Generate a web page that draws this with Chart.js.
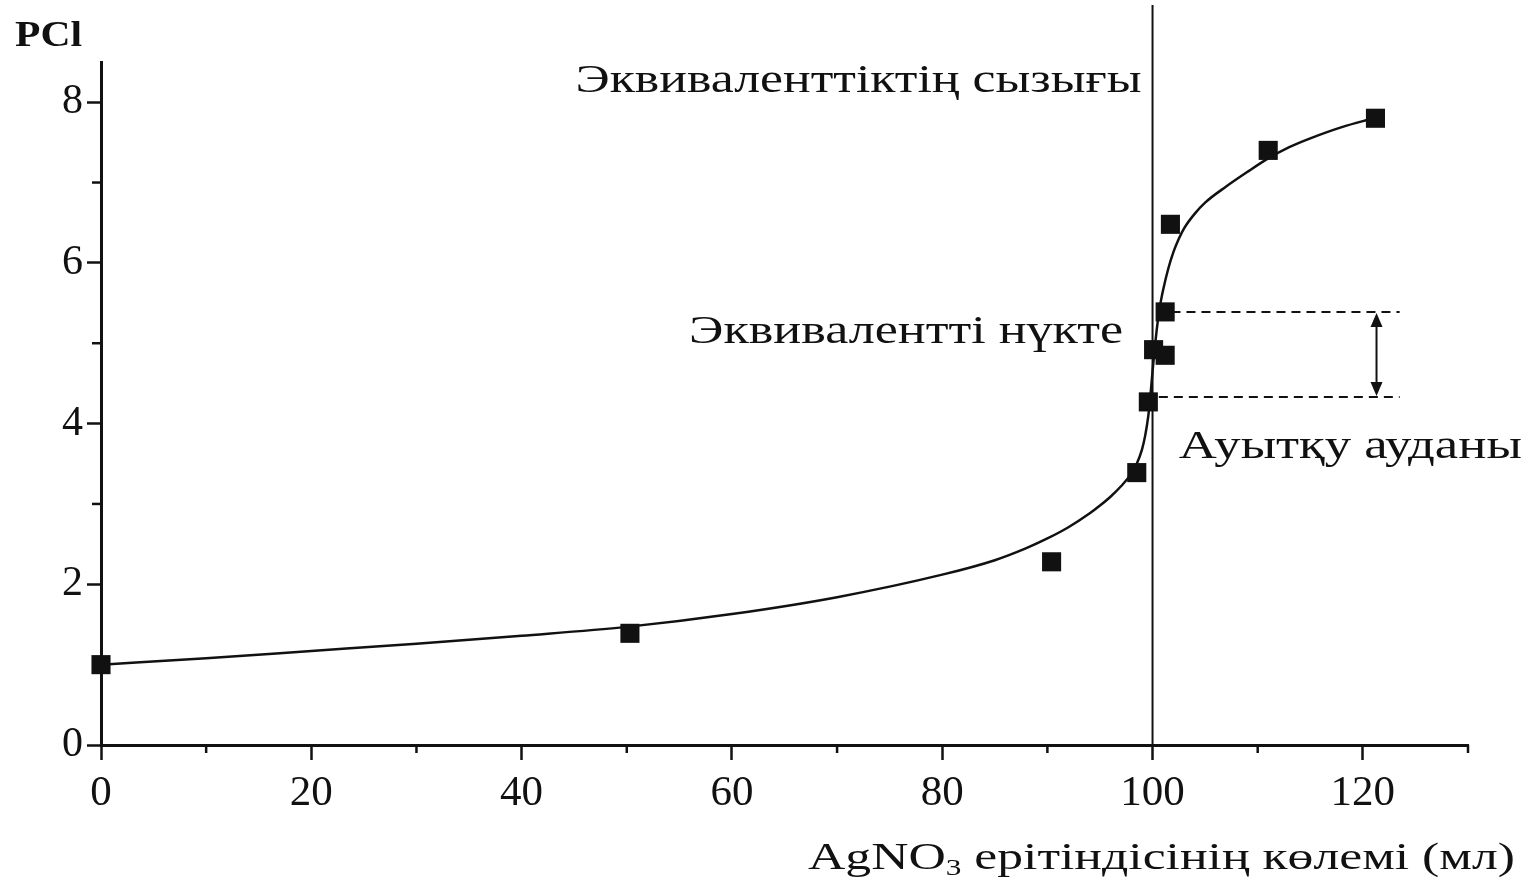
<!DOCTYPE html>
<html><head><meta charset="utf-8">
<script src="https://cdn.jsdelivr.net/npm/chart.js@4.4.0/dist/chart.umd.min.js"></script>
<style>html,body{margin:0;padding:0;background:#fff}#wrap{width:1523px;height:878px;position:relative}</style>
</head><body><div id="wrap"><canvas id="c"></canvas></div>
<script>
// measured points (volume AgNO3, pCl)
const pointX = [0, 50.3, 90.4, 98.5, 99.6, 100.1, 101.2, 101.2, 101.7, 111.0, 121.2];
const pointY = [1.0, 1.39, 2.28, 3.39, 4.27, 4.92, 4.85, 5.39, 6.48, 7.40, 7.80];
// titration curve
const curveX = [0, 10, 20, 30, 40, 50, 60, 70, 80, 85, 88, 90, 92, 94, 95, 96, 97, 98, 98.5, 99, 99.3, 99.6, 99.8, 100, 100.2, 100.4, 100.6, 100.8, 101, 101.5, 102, 102.5, 103, 104, 105, 107, 109, 111, 113, 115, 118, 121];
const curveY = [1.0, 1.08, 1.17, 1.26, 1.36, 1.47, 1.63, 1.84, 2.12, 2.30, 2.45, 2.57, 2.71, 2.88, 2.98, 3.09, 3.22, 3.38, 3.50, 3.68, 3.85, 4.10, 4.35, 4.65, 4.93, 5.17, 5.37, 5.53, 5.66, 5.93, 6.14, 6.30, 6.43, 6.61, 6.75, 6.95, 7.13, 7.30, 7.44, 7.55, 7.69, 7.80];
const xTicks = [0, 20, 40, 60, 80, 100, 120];
const yTicks = [0, 2, 4, 6, 8];
const xMinorTicks = [10, 30, 50, 70, 90, 110, 130];
const yMinorTicks = [1, 3, 5, 7];
const equivalenceX = 100;
const bandUpper = 5.39, bandLower = 4.33;
const bandUpperStart = 101.8, bandLowerStart = 100.6, bandEnd = 123.5, arrowX = 121.3;
const labels = {
  yTitle: 'PCl',
  xTitleA: 'AgNO', xTitleSub: '3', xTitleB: ' ерітіндісінің көлемі (мл)',
  eqLine: 'Эквиваленттіктің сызығы',
  eqPoint: 'Эквивалентті нүкте',
  deviation: 'Ауытқу ауданы'
};

const SERIF = '"Liberation Serif", "DejaVu Serif", serif';

function fitText(ctx, text, x, y, width, align, font) {
  ctx.save();
  ctx.font = font;
  const w = ctx.measureText(text).width;
  const s = width / w;
  ctx.translate(x, y);
  ctx.scale(s, 1);
  ctx.textAlign = align;
  ctx.textBaseline = 'alphabetic';
  ctx.fillStyle = '#111';
  ctx.fillText(text, 0, 0);
  ctx.restore();
}

const overlay = {
  id: 'overlay',
  beforeDatasetsDraw(chart) {
    const ctx = chart.ctx, xs = chart.scales.x, ys = chart.scales.y, ca = chart.chartArea;
    ctx.save();
    ctx.strokeStyle = '#111';
    ctx.lineWidth = 2;
    const ex = xs.getPixelForValue(equivalenceX);
    ctx.beginPath(); ctx.moveTo(ex, 5); ctx.lineTo(ex, ca.bottom); ctx.stroke();
    ctx.lineWidth = 2.5;
    xMinorTicks.forEach(v => { const p = xs.getPixelForValue(v); ctx.beginPath(); ctx.moveTo(p, ca.bottom); ctx.lineTo(p, ca.bottom + 8); ctx.stroke(); });
    yMinorTicks.forEach(v => { const p = ys.getPixelForValue(v); ctx.beginPath(); ctx.moveTo(ca.left, p); ctx.lineTo(ca.left - 9, p); ctx.stroke(); });
    ctx.restore();
  },
  afterDatasetsDraw(chart) {
    const ctx = chart.ctx, xs = chart.scales.x, ys = chart.scales.y;
    ctx.save();
    ctx.strokeStyle = '#111'; ctx.fillStyle = '#111';
    ctx.lineWidth = 2; ctx.setLineDash([9, 6]);
    const yu = ys.getPixelForValue(bandUpper), yl = ys.getPixelForValue(bandLower);
    const xe = xs.getPixelForValue(bandEnd);
    ctx.beginPath(); ctx.moveTo(xs.getPixelForValue(bandUpperStart), yu); ctx.lineTo(xe, yu); ctx.stroke();
    ctx.beginPath(); ctx.moveTo(xs.getPixelForValue(bandLowerStart), yl); ctx.lineTo(xe, yl); ctx.stroke();
    ctx.setLineDash([]);
    const ax = xs.getPixelForValue(arrowX);
    ctx.lineWidth = 2;
    ctx.beginPath(); ctx.moveTo(ax, yu + 10); ctx.lineTo(ax, yl - 10); ctx.stroke();
    ctx.beginPath(); ctx.moveTo(ax, yu + 1); ctx.lineTo(ax - 6, yu + 15); ctx.lineTo(ax + 6, yu + 15); ctx.closePath(); ctx.fill();
    ctx.beginPath(); ctx.moveTo(ax, yl - 1); ctx.lineTo(ax - 6, yl - 15); ctx.lineTo(ax + 6, yl - 15); ctx.closePath(); ctx.fill();
    ctx.restore();
    const f = '40px ' + SERIF;
    fitText(ctx, labels.eqLine, xs.getPixelForValue(98.95), ys.getPixelForValue(8.13), 566, 'right', f);
    fitText(ctx, labels.eqPoint, xs.getPixelForValue(97.2), ys.getPixelForValue(5.0), 434, 'right', f);
    fitText(ctx, labels.deviation, xs.getPixelForValue(102.5), ys.getPixelForValue(3.57), 343, 'left', f);
    fitText(ctx, labels.yTitle, 15, 46, 67, 'left', 'bold 36px ' + SERIF);
    ctx.save();
    const fMain = '38px ' + SERIF, fSub = '23px ' + SERIF;
    ctx.font = fMain; const wA = ctx.measureText(labels.xTitleA).width, wB = ctx.measureText(labels.xTitleB).width;
    ctx.font = fSub; const wS = ctx.measureText(labels.xTitleSub).width;
    const total = wA + wS + wB, target = 707, s = target / total;
    const right = 1515, base = 869;
    ctx.translate(right - target, base); ctx.scale(s, 1);
    ctx.fillStyle = '#111'; ctx.textBaseline = 'alphabetic'; ctx.textAlign = 'left';
    ctx.font = fMain; ctx.fillText(labels.xTitleA, 0, 0);
    ctx.font = fSub; ctx.fillText(labels.xTitleSub, wA, 6);
    ctx.font = fMain; ctx.fillText(labels.xTitleB, wA + wS, 0);
    ctx.restore();
  }
};

new Chart(document.getElementById('c'), {
  data: {
    datasets: [
      {
        type: 'line',
        data: curveX.map((x, i) => ({ x, y: curveY[i] })),
        borderColor: '#111', borderWidth: 2.5, pointRadius: 0,
        cubicInterpolationMode: 'monotone', fill: false, clip: false, order: 2
      },
      {
        type: 'scatter',
        data: pointX.map((x, i) => ({ x, y: pointY[i] })),
        pointStyle: 'rect', pointRadius: 13.5, pointBackgroundColor: '#111', pointBorderColor: '#111',
        pointBorderWidth: 0, clip: false, order: 1
      }
    ]
  },
  options: {
    responsive: true, maintainAspectRatio: false, animation: false, devicePixelRatio: 1,
    layout: { padding: { left: 0, top: 62, right: 55, bottom: 0 } },
    plugins: { legend: { display: false }, tooltip: { enabled: false } },
    scales: {
      x: {
        type: 'linear', min: 0, max: 130,
        afterBuildTicks: s => { s.ticks = xTicks.map(v => ({ value: v })); },
        afterFit: s => { s.height = 133; },
        ticks: { font: { family: SERIF, size: 43 }, color: '#111', padding: 8, maxRotation: 0, autoSkip: false },
        grid: { display: true, drawOnChartArea: false, drawTicks: true, tickLength: 15, tickColor: '#111', tickWidth: 2.5 },
        border: { display: true, color: '#111', width: 3 }
      },
      y: {
        type: 'linear', min: 0, max: 8.5,
        afterBuildTicks: s => { s.ticks = yTicks.map(v => ({ value: v })); },
        afterFit: s => { s.width = 101; },
        ticks: { font: { family: SERIF, size: 42 }, color: '#111', padding: 4, autoSkip: false },
        grid: { display: true, drawOnChartArea: false, drawTicks: true, tickLength: 14, tickColor: '#111', tickWidth: 2.5 },
        border: { display: true, color: '#111', width: 3 }
      }
    }
  },
  plugins: [overlay]
});
</script></body></html>
